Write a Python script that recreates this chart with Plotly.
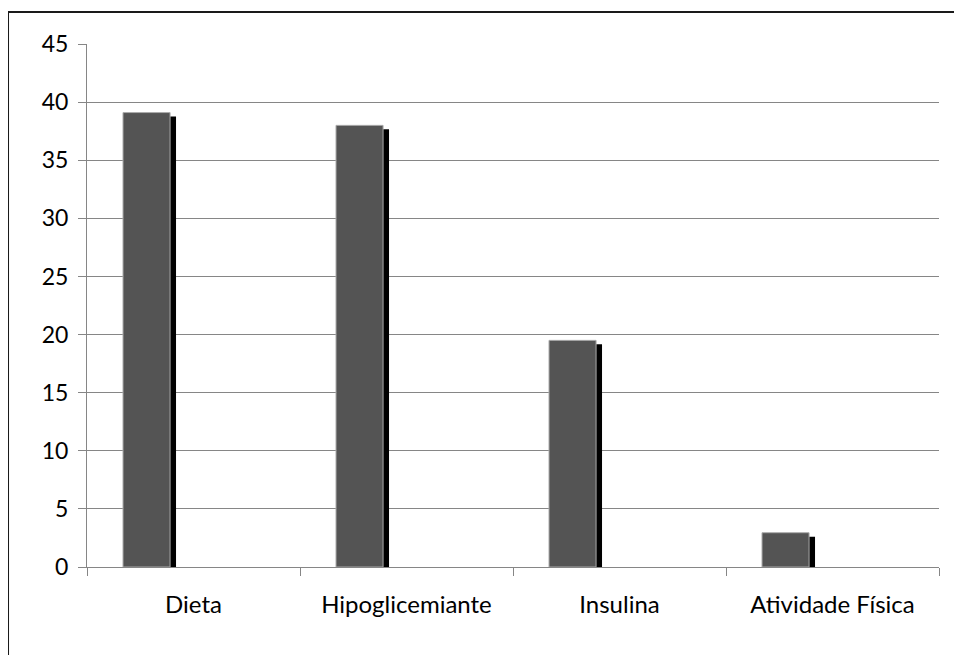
import plotly.graph_objects as go

categories = ["Dieta", "Hipoglicemiante", "Insulina", "Atividade Física"]
values = [39.1, 38.0, 19.5, 2.95]
y_ticks = [0, 5, 10, 15, 20, 25, 30, 35, 40, 45]

# geometry (category units / value units)
bar_width = 0.221
bar_offset = -0.331
shadow_dx = 0.028
shadow_dy = 0.34

fig = go.Figure()

# shadow
fig.add_trace(go.Bar(
    x=categories, y=[v - shadow_dy for v in values],
    width=bar_width, offset=bar_offset + shadow_dx,
    marker=dict(color="#000000", line=dict(width=0)),
    hoverinfo="skip", showlegend=False,
))
# main bars
fig.add_trace(go.Bar(
    x=categories, y=values,
    width=bar_width, offset=bar_offset,
    marker=dict(color="#545454", line=dict(color="#ababab", width=1)),
    showlegend=False,
))

fig.update_layout(
    width=954, height=647,
    margin=dict(l=79, r=23, t=36, b=88),
    paper_bgcolor="white", plot_bgcolor="white",
    barmode="overlay",
    font=dict(family="Lato, Open Sans, sans-serif", size=24, color="#000000"),
    xaxis=dict(
        type="category", showline=True, linecolor="#868686", linewidth=1,
        ticks="outside", tickson="boundaries", ticklen=8, tickcolor="#868686",
        showgrid=False, tickfont=dict(size=24), range=[-0.5, 3.5],
        ticklabelstandoff=16,
    ),
    yaxis=dict(
        range=[0, 45], tickvals=y_ticks, showline=True, linecolor="#868686", linewidth=1,
        ticks="outside", ticklen=8, tickcolor="#868686",
        showgrid=True, gridcolor="#868686", gridwidth=1, zeroline=False,
        tickfont=dict(size=23), ticklabelstandoff=5,
    ),
    shapes=[dict(
        type="rect", xref="paper", yref="paper",
        x0=-0.0927, x1=1.2, y0=-0.3, y1=1.0612,
        line=dict(color="#1a1a1a", width=2), fillcolor="rgba(0,0,0,0)", layer="above",
    )],
)

fig.write_html("out.html")
